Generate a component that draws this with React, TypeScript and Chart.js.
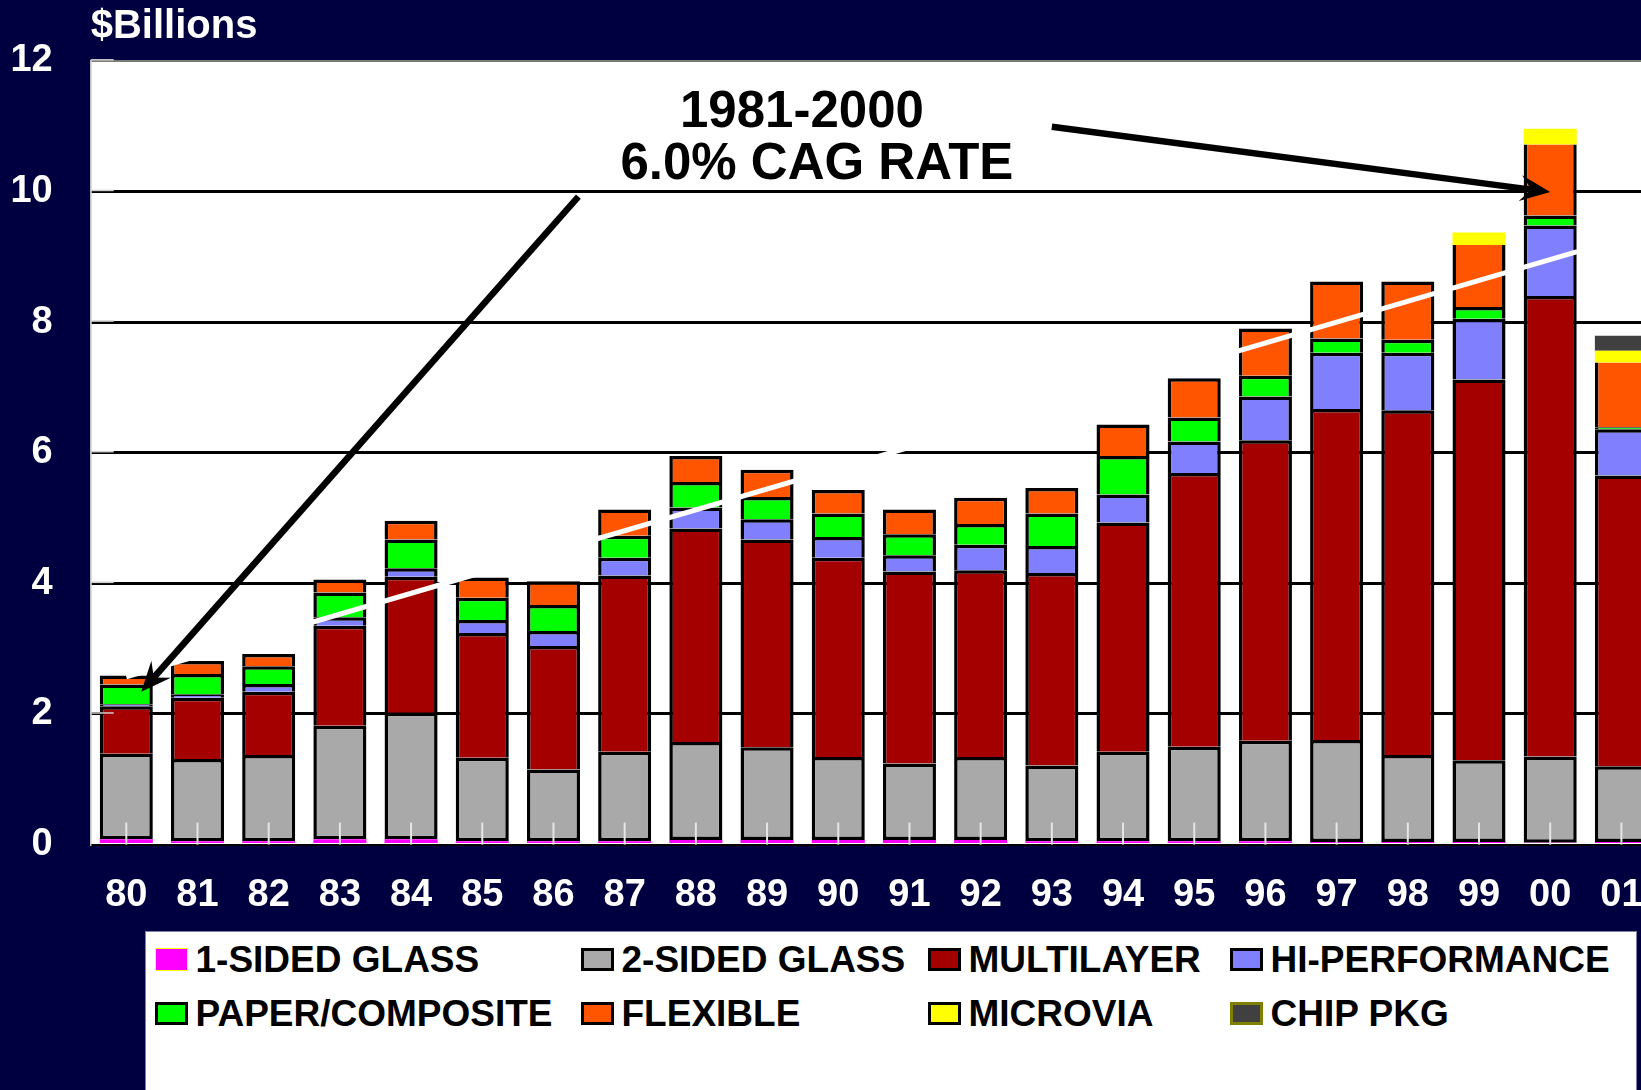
import React, { useEffect, useRef } from 'react';
import { Chart, registerables } from 'chart.js';

Chart.register(...registerables);

const NAVY = '#000040';
const FONT = '"Liberation Sans", Arial, Helvetica, sans-serif';
const BW = 3.5;

const YEARS = ['80', '81', '82', '83', '84', '85', '86', '87', '88', '89', '90', '91', '92', '93', '94', '95', '96', '97', '98', '99', '00', '01'];

const ONE_SIDED = [0.08, 0.05, 0.05, 0.08, 0.08, 0.05, 0.05, 0.05, 0.07, 0.07, 0.07, 0.07, 0.07, 0.05, 0.05, 0.05, 0.05, 0.04, 0.04, 0.04, 0.03, 0.04];
const TWO_SIDED = [1.31, 1.26, 1.32, 1.74, 1.94, 1.28, 1.1, 1.37, 1.5, 1.42, 1.27, 1.17, 1.27, 1.16, 1.37, 1.45, 1.54, 1.56, 1.33, 1.25, 1.32, 1.16];
const MULTILAYER = [0.73, 0.94, 0.97, 1.53, 2.08, 1.91, 1.89, 2.7, 3.27, 3.18, 3.05, 2.94, 2.86, 2.95, 3.51, 4.19, 4.6, 5.07, 5.28, 5.83, 7.05, 4.45];
const HI_PERF = [0.03, 0.05, 0.12, 0.13, 0.13, 0.2, 0.23, 0.27, 0.32, 0.31, 0.32, 0.25, 0.39, 0.41, 0.43, 0.48, 0.67, 0.86, 0.88, 0.93, 1.08, 0.71];
const PAPER = [0.3, 0.31, 0.27, 0.38, 0.44, 0.34, 0.4, 0.34, 0.39, 0.34, 0.36, 0.32, 0.32, 0.5, 0.59, 0.37, 0.32, 0.22, 0.2, 0.18, 0.15, 0.03];
const FLEXIBLE = [0.14, 0.2, 0.19, 0.2, 0.29, 0.31, 0.36, 0.4, 0.4, 0.42, 0.36, 0.38, 0.4, 0.39, 0.48, 0.6, 0.72, 0.87, 0.89, 0.95, 1.09, 0.99];
const MICROVIA = [0, 0, 0, 0, 0, 0, 0, 0, 0, 0, 0, 0, 0, 0, 0, 0, 0, 0, 0, 0.19, 0.24, 0.18];
const CHIP_PKG = [0, 0, 0, 0, 0, 0, 0, 0, 0, 0, 0, 0, 0, 0, 0, 0, 0, 0, 0, 0, 0, 0.23];

const Y_MIN = 0;
const Y_MAX = 12;
const Y_STEP = 2;

// CAGR trend line endpoints (x = category index, y = $B)
const TREND = [
  { x: 0, y: 2.57 },
  { x: 20.38, y: 9.08 },
];

// Annotation: text lines and arrows in data space (x = category index, y = $B)
const NOTE_LINES = ['1981-2000', '6.0% CAG RATE'];
const NOTE_POS = [
  { x: 9.49, y: 11.2 },
  { x: 9.7, y: 10.4 },
];
const ARROWS = [
  { from: { x: 6.35, y: 9.92 }, to: { x: 0.21, y: 2.34 } },
  { from: { x: 13.0, y: 10.99 }, to: { x: 20.0, y: 9.99 } },
];

const SERIES = [
  { label: '1-SIDED GLASS', data: ONE_SIDED, color: '#FF00FF', legendBorder: '#FFFF00', legendBorderW: 1, border: 0 },
  { label: '2-SIDED GLASS', data: TWO_SIDED, color: '#A9A9A9', legendBorder: '#000000', legendBorderW: 3, border: BW },
  { label: 'MULTILAYER', data: MULTILAYER, color: '#A50000', legendBorder: '#000000', legendBorderW: 3, border: BW },
  { label: 'HI-PERFORMANCE', data: HI_PERF, color: '#8080FF', legendBorder: '#000000', legendBorderW: 3, border: BW },
  { label: 'PAPER/COMPOSITE', data: PAPER, color: '#00FF00', legendBorder: '#000000', legendBorderW: 3, border: BW },
  { label: 'FLEXIBLE', data: FLEXIBLE, color: '#FF5500', legendBorder: '#000000', legendBorderW: 3, border: BW },
  { label: 'MICROVIA', data: MICROVIA, color: '#FFFF00', legendBorder: '#000000', legendBorderW: 3, border: 0 },
  { label: 'CHIP PKG', data: CHIP_PKG, color: '#404040', legendBorder: '#808000', legendBorderW: 3, border: 0 },
];

function drawArrow(ctx: CanvasRenderingContext2D, x1: number, y1: number, x2: number, y2: number) {
  const ang = Math.atan2(y2 - y1, x2 - x1);
  const c = Math.cos(ang);
  const s = Math.sin(ang);
  const len = 30;
  const half = 13;
  const notch = 19;
  const nx = x2 - notch * c;
  const ny = y2 - notch * s;
  const bx = x2 - len * c;
  const by = y2 - len * s;
  ctx.save();
  ctx.strokeStyle = '#000';
  ctx.fillStyle = '#000';
  ctx.lineWidth = 6.5;
  ctx.lineCap = 'butt';
  ctx.beginPath();
  ctx.moveTo(x1, y1);
  ctx.lineTo(nx, ny);
  ctx.stroke();
  ctx.beginPath();
  ctx.moveTo(x2, y2);
  ctx.lineTo(bx - half * s, by + half * c);
  ctx.lineTo(nx, ny);
  ctx.lineTo(bx + half * s, by - half * c);
  ctx.closePath();
  ctx.fill();
  ctx.restore();
}

const decorPlugin = {
  id: 'decor',
  beforeDraw(chart: any) {
    const { ctx, chartArea: a } = chart;
    ctx.save();
    ctx.fillStyle = NAVY;
    ctx.fillRect(0, 0, chart.width, chart.height);
    ctx.fillStyle = '#ffffff';
    ctx.fillRect(a.left, a.top, a.right - a.left, a.bottom - a.top);
    ctx.restore();
  },
  afterDatasetsDraw(chart: any) {
    const { ctx, chartArea: a, scales } = chart;
    const xs = scales.x;
    const ys = scales.y;
    ctx.save();
    // CAGR trend line (white)
    ctx.strokeStyle = '#ffffff';
    ctx.lineWidth = 5;
    ctx.lineCap = 'butt';
    ctx.beginPath();
    TREND.forEach((p, i) => {
      const px = xs.getPixelForValue(p.x);
      const py = ys.getPixelForValue(p.y);
      if (i === 0) ctx.moveTo(px, py);
      else ctx.lineTo(px, py);
    });
    ctx.stroke();
    // white tick marks at the foot of each category
    ctx.strokeStyle = '#e6e6e6';
    ctx.lineWidth = 2;
    YEARS.forEach((_, i) => {
      const px = xs.getPixelForValue(i);
      ctx.beginPath();
      ctx.moveTo(px, a.bottom - 22);
      ctx.lineTo(px, a.bottom);
      ctx.stroke();
    });
    // short light tick stubs on the value axis, inside the plot
    ctx.strokeStyle = '#cfcfcf';
    ctx.lineWidth = 1.5;
    for (let v = Y_MIN + Y_STEP; v <= Y_MAX; v += Y_STEP) {
      const py = ys.getPixelForValue(v);
      ctx.beginPath();
      ctx.moveTo(a.left, py - 1);
      ctx.lineTo(a.left + 23, py - 1);
      ctx.stroke();
    }
    ctx.restore();
  },
  afterDraw(chart: any) {
    const { ctx, scales } = chart;
    const xs = scales.x;
    const ys = scales.y;
    ARROWS.forEach((ar) => {
      drawArrow(
        ctx,
        xs.getPixelForValue(ar.from.x),
        ys.getPixelForValue(ar.from.y),
        xs.getPixelForValue(ar.to.x),
        ys.getPixelForValue(ar.to.y)
      );
    });
    ctx.save();
    ctx.fillStyle = '#000';
    ctx.font = `bold 51px ${FONT}`;
    ctx.textAlign = 'center';
    ctx.textBaseline = 'middle';
    NOTE_LINES.forEach((t, i) => {
      ctx.fillText(t, xs.getPixelForValue(NOTE_POS[i].x), ys.getPixelForValue(NOTE_POS[i].y));
    });
    ctx.restore();
  },
};

export default function App() {
  const ref = useRef<HTMLCanvasElement>(null);

  useEffect(() => {
    if (!ref.current) return;
    const datasets: any[] = SERIES.map((s, si) => ({
      label: s.label,
      data: s.data,
      backgroundColor: s.color,
      borderColor: '#000000',
      borderWidth:
        s.label === 'FLEXIBLE'
          ? (c: any) => (MICROVIA[c.dataIndex] > 0 ? { top: 0, left: BW, right: BW, bottom: 0 } : BW)
          : s.border,
      borderSkipped: si === 1 ? false : 'start',
      barPercentage: 0.745,
      categoryPercentage: 1,
    }));

    const chart = new Chart(ref.current, {
      type: 'bar',
      data: { labels: YEARS, datasets },
      options: {
        responsive: false,
        animation: false,
        devicePixelRatio: 1,
        layout: { padding: 0 },
        plugins: {
          legend: { display: false },
          tooltip: { enabled: false },
          title: {
            display: true,
            text: '$Billions',
            align: 'start',
            fullSize: false,
            color: '#ffffff',
            font: { family: FONT, size: 40, weight: 'bold' },
            padding: { top: 2, bottom: 9.7 },
          },
        },
        scales: {
          x: {
            type: 'category',
            stacked: true,
            offset: true,
            grid: { display: false, drawTicks: false },
            border: { display: true, color: '#000000', width: 2 },
            ticks: {
              color: '#ffffff',
              font: { family: FONT, size: 38, weight: 'bold' },
              padding: 28,
              maxRotation: 0,
              autoSkip: false,
            },
            afterFit: (s: any) => {
              s.height = 245.4;
              s.paddingLeft = 0;
              s.paddingRight = 0;
            },
          },
          y: {
            stacked: true,
            min: Y_MIN,
            max: Y_MAX,
            ticks: {
              stepSize: Y_STEP,
              color: '#ffffff',
              font: { family: FONT, size: 38, weight: 'bold' },
              padding: 38,
            },
            grid: {
              drawTicks: false,
              color: (c: any) => (c.tick && c.tick.value === 0 ? 'rgba(0,0,0,0)' : c.tick && c.tick.value === Y_MAX ? '#7a7a7a' : '#000000'),
              lineWidth: (c: any) => (c.tick && c.tick.value === Y_MAX ? 2 : 3),
            },
            border: { display: true, color: '#c0c0c0', width: 1.5 },
            afterFit: (s: any) => {
              s.width = 90.7;
            },
          },
        },
      } as any,
      plugins: [decorPlugin],
    });
    return () => chart.destroy();
  }, []);

  return (
    <div
      style={{
        position: 'fixed',
        left: 0,
        top: 0,
        width: 1641,
        height: 1090,
        overflow: 'hidden',
        background: NAVY,
      }}
    >
      <div style={{ position: 'absolute', left: 0, top: 0, width: 1657, height: 1090 }}>
        <canvas
          ref={ref}
          width={1657}
          height={1090}
          style={{ display: 'block', width: 1657, height: 1090 }}
        />
      </div>
      <div
        style={{
          position: 'absolute',
          left: 145,
          top: 931,
          width: 1492,
          height: 200,
          background: '#ffffff',
          border: '1.5px solid #8080a8',
          boxSizing: 'border-box',
          display: 'grid',
          gridTemplateColumns: '426px 347px 302px auto',
          gridAutoRows: '54px',
          paddingLeft: 8.5,
          paddingTop: 0,
        }}
      >
        {SERIES.map((s) => (
          <div key={s.label} style={{ display: 'flex', alignItems: 'center' }}>
            <span
              style={{
                display: 'inline-block',
                width: 33,
                height: 23,
                boxSizing: 'border-box',
                background: s.color,
                border: `${s.legendBorderW}px solid ${s.legendBorder}`,
                marginRight: 8,
                flex: 'none',
              }}
            />
            <span
              style={{
                fontFamily: FONT,
                fontWeight: 'bold',
                fontSize: 37,
                lineHeight: 1,
                color: '#000000',
                whiteSpace: 'nowrap',
              }}
            >
              {s.label}
            </span>
          </div>
        ))}
      </div>
    </div>
  );
}
